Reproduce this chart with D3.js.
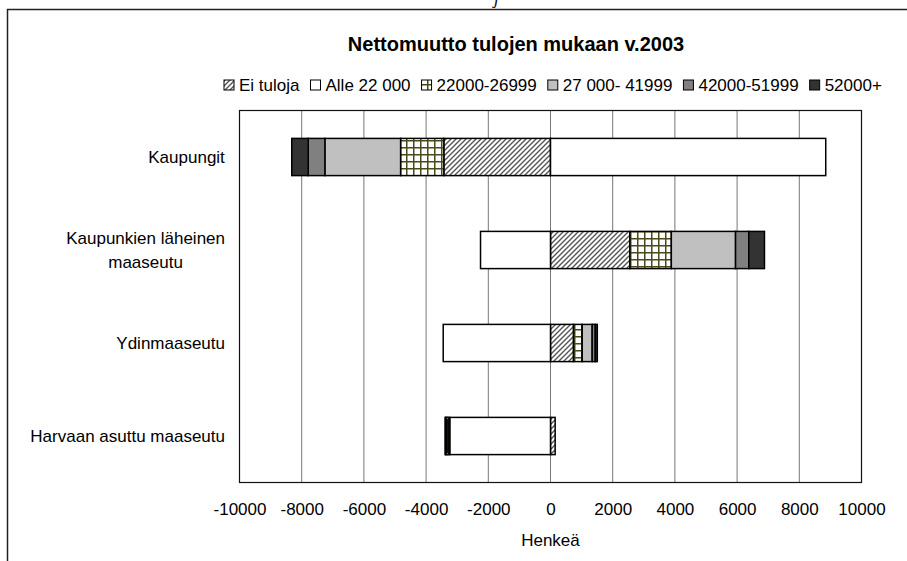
<!DOCTYPE html>
<html>
  <head>
    <title>Nettomuutto tulojen mukaan</title>
    <script src="https://d3js.org/d3.v7.min.js"></script>
    <style>
      body { margin: 0; background: #fff; }
      text { font-family: "Liberation Sans", Arial, sans-serif; fill: #000; }
    </style>
  </head>
  <body>
    <div id="vis"></div>
    <script>
      // data
      var categories = ["Kaupungit", "Kaupunkien läheinen maaseutu", "Ydinmaaseutu", "Harvaan asuttu maaseutu"];
      var seriesNames = ["Ei tuloja", "Alle 22 000", "22000-26999", "27 000- 41999", "42000-51999", "52000+"];
      var eiTuloja  = [-3430, 2550, 740, 150];
      var alle22000 = [8850, -2250, -3450, -3240];
      var t22000    = [-1390, 1335, 280, -60];
      var t27000    = [-2435, 2065, 320, -50];
      var t42000    = [-535, 425, 100, -20];
      var t52000    = [-530, 505, 65, -20];
      var xTicks = [-10000, -8000, -6000, -4000, -2000, 0, 2000, 4000, 6000, 8000, 10000];

      var width = 907, height = 561;
      var pLeft = 239.5, pRight = 861.5, pTop = 110.5, pBottom = 482.5;

      var svg = d3.select("#vis").append("svg")
        .attr("width", width)
        .attr("height", height);

      // fill patterns
      var defs = svg.append("defs");
      var hatch = defs.append("pattern").attr("id", "hatch")
        .attr("patternUnits", "userSpaceOnUse").attr("width", 5).attr("height", 5);
      hatch.append("rect").attr("width", 5).attr("height", 5).attr("fill", "#fff");
      hatch.append("path").attr("d", "M-1,1 l2,-2 M0,5 l5,-5 M4,6 l2,-2")
        .attr("stroke", "#555").attr("stroke-width", 1.4);
      var grid = defs.append("pattern").attr("id", "grid")
        .attr("patternUnits", "userSpaceOnUse").attr("width", 7).attr("height", 7);
      grid.append("rect").attr("width", 7).attr("height", 7).attr("fill", "#fff");
      grid.append("path").attr("d", "M0.75,0 V7 M0,0.75 H7")
        .attr("stroke", "#4a4a1a").attr("stroke-width", 1.5);

      var fills = ["url(#hatch)", "#ffffff", "url(#grid)", "#c0c0c0", "#808080", "#333333"];

      // outer chart border (only left and top visible)
      svg.append("path").attr("d", "M7.5,561 V9.5 H907")
        .attr("fill", "none").attr("stroke", "#222").attr("stroke-width", 1.5);
      svg.append("text").attr("x", 494).attr("y", 4)
        .style("font-family", "'Liberation Serif', serif").style("font-style", "italic")
        .style("font-size", "17px").text("j");

      var table = categories.map(function (c, i) {
        return { cat: c, "Ei tuloja": eiTuloja[i], "Alle 22 000": alle22000[i], "22000-26999": t22000[i],
                 "27 000- 41999": t27000[i], "42000-51999": t42000[i], "52000+": t52000[i] };
      });
      var stacked = d3.stack().keys(seriesNames).offset(d3.stackOffsetDiverging)(table);

      var x = d3.scaleLinear().domain([-10000, 10000]).range([pLeft, pRight]);
      var y = d3.scaleBand().domain(categories).range([pTop, pBottom]).paddingInner(0.6).paddingOuter(0.3);

      // gridlines
      svg.append("g").selectAll("line").data(xTicks).enter().append("line")
        .attr("x1", function (d) { return x(d); }).attr("x2", function (d) { return x(d); })
        .attr("y1", pTop).attr("y2", pBottom)
        .attr("stroke", "#777").attr("stroke-width", 1);
      svg.append("rect").attr("x", pLeft).attr("y", pTop)
        .attr("width", pRight - pLeft).attr("height", pBottom - pTop)
        .attr("fill", "none").attr("stroke", "#111").attr("stroke-width", 1.2);

      // bars
      svg.append("g").selectAll("g").data(stacked).enter().append("g")
        .attr("fill", function (d, i) { return fills[i]; })
        .selectAll("rect").data(function (d) { return d; }).enter().append("rect")
        .attr("x", function (d) { return x(Math.min(d[0], d[1])); })
        .attr("width", function (d) { return Math.abs(x(d[1]) - x(d[0])); })
        .attr("y", function (d) { return y(d.data.cat); })
        .attr("height", y.bandwidth())
        .attr("stroke", "#000").attr("stroke-width", 1.5);

      // x axis labels
      var xAxis = svg.append("g")
        .attr("transform", "translate(0," + pBottom + ")")
        .call(d3.axisBottom(x).tickValues(xTicks).tickSize(0).tickPadding(20)
          .tickFormat(function (d) { return String(d); }));
      xAxis.select(".domain").remove();
      xAxis.selectAll("text").style("font-size", "17px").style("font-family", "'Liberation Sans', Arial, sans-serif");

      svg.append("text").attr("x", x(0)).attr("y", 546)
        .attr("text-anchor", "middle").style("font-size", "17px").text("Henkeä");

      // category labels
      var catLines = {
        "Kaupungit": ["Kaupungit"],
        "Kaupunkien läheinen maaseutu": ["Kaupunkien läheinen", "maaseutu"],
        "Ydinmaaseutu": ["Ydinmaaseutu"],
        "Harvaan asuttu maaseutu": ["Harvaan asuttu maaseutu"]
      };
      categories.forEach(function (c) {
        var lines = catLines[c];
        var cy = y(c) + y.bandwidth() / 2;
        var t = svg.append("text").style("font-size", "17px").attr("text-anchor", "middle");
        lines.forEach(function (l, i) {
          t.append("tspan").attr("x", 0).attr("y", cy + 6 + (i - (lines.length - 1) / 2) * 24).text(l);
        });
        var w = t.node().getBBox().width;
        t.selectAll("tspan").attr("x", 225 - w / 2);
      });

      // title
      svg.append("text").attr("x", 516).attr("y", 51)
        .attr("text-anchor", "middle").style("font-size", "20px").style("font-weight", "bold")
        .text("Nettomuutto tulojen mukaan v.2003");

      // legend
      var lx = 224, ly = 85;
      seriesNames.forEach(function (s, i) {
        svg.append("rect").attr("x", lx).attr("y", ly - 5).attr("width", 10).attr("height", 10)
          .attr("fill", fills[i]).attr("stroke", "#000").attr("stroke-width", 1);
        var t = svg.append("text").attr("x", lx + 15).attr("y", ly + 6)
          .style("font-size", "17px").text(s);
        lx += 15 + t.node().getComputedTextLength() + 11;
      });
    </script>
  </body>
</html>
